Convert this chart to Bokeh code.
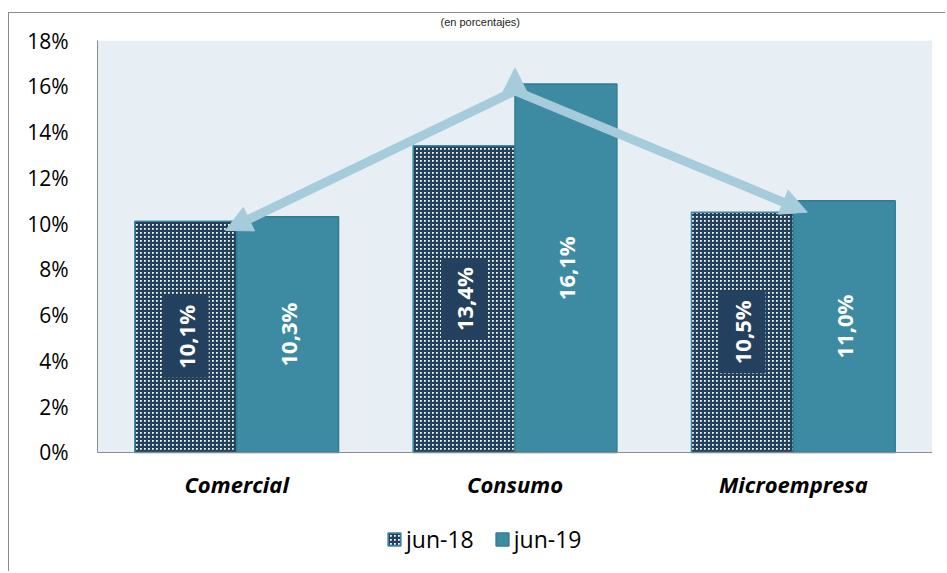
import math
from bokeh.plotting import figure
from bokeh.models import (ColumnDataSource, FactorRange, Range1d, FixedTicker, BoxAnnotation,
                          PrintfTickFormatter, Arrow, NormalHead, Legend, LegendItem)
from bokeh.transform import dodge
from bokeh.core.properties import value
from bokeh.embed import file_html
from bokeh.resources import INLINE

title_text = "(en porcentajes)"
categories = ["Comercial", "Consumo", "Microempresa"]
series_names = ["jun-18", "jun-19"]
jun18 = [10.1, 13.4, 10.5]
jun19 = [10.3, 16.1, 11.0]
y_ticks = [0, 2, 4, 6, 8, 10, 12, 14, 16, 18]

FONT = "Open Sans"
NAVY = "#24405F"
TEAL = "#3C8BA3"
ARROW = "#A6CBDA"
GRAY = "#8c8c8c"

W, H = 945, 571


def fmt(v):
    return ("%.1f" % v).replace(".", ",") + "%"


src = ColumnDataSource(dict(
    cat=categories,
    jun18=jun18,
    jun19=jun19,
    mid18=[v / 2 for v in jun18],
    mid19=[v / 2 for v in jun19],
    lab18=[fmt(v) for v in jun18],
    lab19=[fmt(v) for v in jun19],
))

p = figure(x_range=FactorRange(*categories, range_padding=0),
           y_range=Range1d(-5.2, 18),
           width=W, height=H, output_backend="svg", toolbar_location=None,
           min_border_left=97, min_border_right=W - 932, min_border_top=40,
           min_border_bottom=0)
p.styles = {
    "background": ("linear-gradient(%s,%s) 8px 12px / 1px 100%% no-repeat, "
                   "linear-gradient(%s,%s) 8px 12px / 100%% 1px no-repeat, white")
                  % (GRAY, GRAY, GRAY, GRAY)
}
p.background_fill_alpha = 0
p.border_fill_alpha = 0
p.outline_line_color = None
p.xgrid.visible = False
p.ygrid.visible = False
p.add_layout(BoxAnnotation(bottom=0, top=18, fill_color="#E8EFF4", fill_alpha=1,
                           line_color=None, level="underlay"))

p.title.text = title_text
p.title.text_font = "Liberation Sans"
p.title.text_font_style = "normal"
p.title.text_font_size = "11px"
p.title.text_color = "#222222"
p.title.align = "left"
p.title.offset = 343
p.title.standoff = 26

bw = 0.366
r18 = p.vbar(x=dodge("cat", -bw / 2, range=p.x_range), top="jun18", width=bw, source=src,
             fill_color="white", hatch_pattern="+", hatch_color=NAVY, hatch_scale=4,
             hatch_weight=2.5, line_color="#3B8AA0", line_width=1.5)
r19 = p.vbar(x=dodge("cat", bw / 2, range=p.x_range), top="jun19", width=bw, source=src,
             fill_color=TEAL, line_color="#327C91", line_width=1.5)

# arrows
apex_y = jun19[1] - 0.3
for (xe, ye) in [(0.46, jun18[0] - 0.4), (2.55, jun18[2])]:
    p.add_layout(Arrow(x_start=1.5, y_start=apex_y, x_end=xe, y_end=ye,
                       line_color=ARROW, line_width=9,
                       end=NormalHead(size=26, fill_color=ARROW, line_color=ARROW)))
p.add_layout(Arrow(x_start=1.5, y_start=apex_y, x_end=1.5, y_end=jun19[1] + 0.7,
                   line_color=ARROW, line_width=1,
                   end=NormalHead(size=26, fill_color=ARROW, line_color=ARROW)))

# value labels
p.text(x=dodge("cat", -bw / 2, range=p.x_range), y="mid18", text="lab18", source=src,
       angle=math.pi / 2, text_align="center", text_baseline="middle",
       text_color="white", text_font=value(FONT), text_font_style="bold",
       text_font_size="22px", background_fill_color=NAVY, padding=[9, 8])
p.text(x=dodge("cat", bw / 2, range=p.x_range), y="mid19", text="lab19", source=src,
       angle=math.pi / 2, text_align="center", text_baseline="middle",
       text_color="white", text_font=value(FONT), text_font_style="bold",
       text_font_size="22px")

# axes
p.yaxis.ticker = FixedTicker(ticks=y_ticks)
p.yaxis.bounds = (0, 18)
p.yaxis.formatter = PrintfTickFormatter(format="%d%%")
p.yaxis.major_tick_line_color = None
p.yaxis.minor_tick_line_color = None
p.yaxis.axis_line_color = GRAY
p.yaxis.major_label_standoff = 23
p.yaxis.major_label_text_font = FONT
p.yaxis.major_label_text_font_size = "21px"
p.yaxis.major_label_text_color = "black"

p.xaxis.fixed_location = 0
p.xaxis.major_tick_line_color = None
p.xaxis.minor_tick_line_color = None
p.xaxis.axis_line_color = GRAY
p.xaxis.major_label_standoff = 11
p.xaxis.major_label_text_font = FONT
p.xaxis.major_label_text_font_style = "bold italic"
p.xaxis.major_label_text_font_size = "22px"
p.xaxis.major_label_text_color = "black"

legend = Legend(items=[LegendItem(label=series_names[0], renderers=[r18]),
                       LegendItem(label=series_names[1], renderers=[r19])],
                orientation="horizontal", location=(289, 16),
                label_text_font=FONT, label_text_font_size="23px",
                label_text_color="black",
                glyph_width=16, glyph_height=16, label_standoff=4, spacing=20,
                border_line_color=None, background_fill_alpha=0)
p.add_layout(legend, "center")

open("out.html", "w").write(file_html(p, INLINE))
